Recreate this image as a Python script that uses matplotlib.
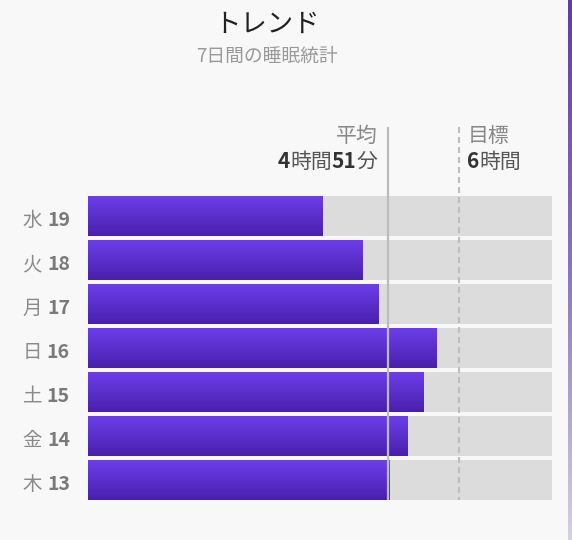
import matplotlib
matplotlib.use('Agg')
import matplotlib.pyplot as plt
import matplotlib.transforms as mtrans
import numpy as np
from matplotlib.colors import LinearSegmentedColormap

# ---- data ----
days = ['水', '火', '月', '日', '土', '金', '木']
dates = [19, 18, 17, 16, 15, 14, 13]
sleep_min = [227, 266, 282, 338, 325, 310, 292]   # minutes of sleep
goal_min = 360
max_min = 450
title = 'トレンド'
subtitle = '7日間の睡眠統計'
avg_label = '平均'
goal_label = '目標'

JP = ['Noto Sans CJK JP', 'DejaVu Sans']
plt.rcParams['font.family'] = JP

W, H = 572, 540
fig = plt.figure(figsize=(W / 100, H / 100), dpi=100)
fig.patch.set_facecolor('#f8f8f8')

pitch = 44.0
bar_h = 40.0 / pitch
ax = fig.add_axes([88 / W, (H - 500) / H, 464 / W, 380 / H])
ax.set_facecolor('none')
ax.axis('off')
y = np.arange(len(days))
ylim_bottom = len(days) - 1 + 20 / pitch
ylim_top = -96 / pitch

# tracks
ax.barh(y, [max_min] * len(days), height=bar_h, color='#dcdcdc', zorder=1)

# gradient bars
grad = np.linspace(0, 1, 64).reshape(-1, 1)
cmap = LinearSegmentedColormap.from_list('bar', ['#6c3eea', '#4820ac'])
bars = ax.barh(y, sleep_min, height=bar_h, color='none', zorder=2)
for yi, v in zip(y, sleep_min):
    ax.imshow(grad, cmap=cmap, aspect='auto', origin='upper',
              extent=(0, v, yi + bar_h / 2, yi - bar_h / 2), zorder=2,
              interpolation='bilinear')

ax.set_xlim(0, max_min)
ax.set_ylim(ylim_bottom, ylim_top)

avg = float(np.mean(sleep_min))
line_top = (127 - 216) / pitch
ax.plot([avg, avg], [line_top, ylim_bottom], color='#bcbcbc', lw=1.6, zorder=4,
        solid_capstyle='butt')
ax.plot([goal_min, goal_min], [line_top, ylim_bottom], color='#bdbdbd', lw=1.5,
        ls=(0, (2.9, 1.9)), zorder=3)

fig.canvas.draw()
renderer = fig.canvas.get_renderer()
ident = mtrans.IdentityTransform()


def pieces(x, ybase, parts, ha='left'):
    """x, ybase in pixel coords from top-left; parts: (text, size, weight, color)."""
    ts = []
    widths = []
    for s, size, weight, color in parts:
        t = fig.text(0, 0, s, transform=ident, fontsize=size, fontweight=weight,
                     color=color, ha='left', va='baseline', family=JP)
        ts.append(t)
        widths.append(t.get_window_extent(renderer).width)
    total = sum(widths)
    start = x - total if ha == 'right' else x
    for t, w in zip(ts, widths):
        t.set_position((start, H - ybase))
        start += w


# title
fig.text(267 / W, 1 - 24 / H, title, fontsize=19, color='#222222',
         ha='center', va='center')
fig.text(267 / W, 1 - 56 / H, subtitle, fontsize=13.5, color='#999999',
         ha='center', va='center')

# row labels
for yi, d, n in zip(y, days, dates):
    cy = H - ax.transData.transform((0, yi))[1]
    pieces(70, cy + 10, [(d + ' ', 14, 'normal', '#8a8a8a'),
                         (str(n), 14, 'bold', '#7a7a7a')], ha='right')

# average annotation
avg_px = ax.transData.transform((avg, 0))[0]
goal_px = ax.transData.transform((goal_min, 0))[0]
am = int(round(avg))
hh, mm = am // 60, am % 60
fig.text((avg_px - 11) / W, 1 - 136 / H, avg_label, fontsize=15, color='#888888',
         ha='right', va='center')
pieces(avg_px - 11, 168, [(str(hh), 15, 'bold', '#333333'),
                          ('時間', 15, 'normal', '#555555'),
                          (str(mm), 15, 'bold', '#333333'),
                          ('分', 15, 'normal', '#555555')], ha='right')

# goal annotation
fig.text((goal_px + 8) / W, 1 - 136 / H, goal_label, fontsize=15, color='#888888',
         ha='left', va='center')
pieces(goal_px + 8, 168, [(str(goal_min // 60), 15, 'bold', '#333333'),
                          ('時間', 15, 'normal', '#555555')], ha='left')

# right edge strip
sax = fig.add_axes([568 / W, 0, 4 / W, 1])
sax.axis('off')
scmap = LinearSegmentedColormap.from_list('strip', ['#643aa6', '#8c74bb', '#d4d0e4'])
sax.imshow(np.linspace(0, 1, 128).reshape(-1, 1), cmap=scmap, aspect='auto',
           interpolation='bilinear')

fig.savefig('out.png', dpi=100, facecolor=fig.get_facecolor())
